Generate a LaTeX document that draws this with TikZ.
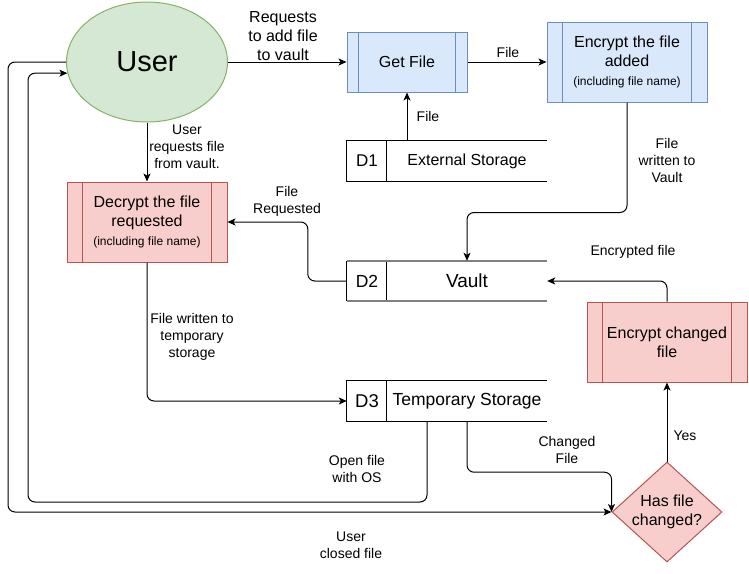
\documentclass[tikz,border=0pt]{standalone}
\usepackage{fontspec}
\setmainfont{Liberation Sans}
\usetikzlibrary{shapes.geometric,arrows.meta,calc}
\definecolor{gfill}{HTML}{D5E8D4}
\definecolor{gstroke}{HTML}{82B366}
\definecolor{bfill}{HTML}{DAE8FC}
\definecolor{bstroke}{HTML}{6C8EBF}
\definecolor{rfill}{HTML}{F8CECC}
\definecolor{rstroke}{HTML}{B85450}
\definecolor{vgray}{HTML}{808080}
\newcommand\fsL{\fontsize{14}{17}\selectfont}
\newcommand\fsT{\fontsize{16}{19.2}\selectfont}
\newcommand\fsM{\fontsize{16}{19}\selectfont}
\newcommand\fsS{\fontsize{12}{14}\selectfont}
\newcommand\procbars[2]{%
  \draw[#2, line width=1pt] ($(#1.north west)!0.1!(#1.north east)$) -- ($(#1.south west)!0.1!(#1.south east)$);
  \draw[#2, line width=1pt] ($(#1.north west)!0.9!(#1.north east)$) -- ($(#1.south west)!0.9!(#1.south east)$);}
\newcommand\store[1]{%
  \draw[line width=1pt] (#1.north east) -- (#1.north west) -- (#1.south west) -- (#1.south east);
  \draw[line width=1pt] ($(#1.north west)+(40,0)$) -- ($(#1.south west)+(40,0)$);}
\begin{document}
\begin{tikzpicture}[x=1pt,y=1pt,
  flow/.style={draw=black, line width=1pt, rounded corners=7pt, -{Stealth[length=8pt,width=7pt,inset=2pt]}},
  lbl/.style={font=\fsL, align=center, inner sep=0pt},
  proc/.style={rectangle, line width=1pt, inner sep=0pt, align=center, font=\fsM},
  bluebox/.style={draw=bstroke, fill=bfill},
  redbox/.style={draw=rstroke, fill=rfill},
  storearea/.style={rectangle, minimum width=200pt, minimum height=40pt, inner sep=0pt},
  txt/.style={inner sep=0pt, align=center}
]
\useasboundingbox (0,0) rectangle (749,-573);

% main shapes
\node[ellipse, draw=gstroke, fill=gfill, line width=1pt, minimum width=161pt, minimum height=120pt, inner sep=0pt, font=\fontsize{29}{34}\selectfont] (user) at (147,-62) {User};

\node[proc, bluebox, minimum width=120pt, minimum height=60pt] (getfile) at (407,-62) {Get File};
\procbars{getfile}{bstroke}

\node[proc, bluebox, minimum width=160pt, minimum height=80pt] (encadd) at (627,-62) {Encrypt the file\\added\\{\fsS (including file name)}};
\procbars{encadd}{bstroke}

\node[proc, redbox, minimum width=160pt, minimum height=80pt] (decrypt) at (147,-222) {Decrypt the file\\requested\\{\fsS (including file name)}};
\procbars{decrypt}{rstroke}

\node[proc, redbox, minimum width=160pt, minimum height=80pt] (encchg) at (667,-342) {Encrypt changed\\file};
\procbars{encchg}{rstroke}

\node[diamond, draw=rstroke, fill=rfill, line width=1pt, minimum width=110pt, minimum height=100pt, inner sep=0pt] (chg) at (667,-512) {};
\node[txt, font=\fsM] (chgtxt) at (chg) {Has file\\changed?};

% data stores
\node[storearea] (d1) at (447,-161) {};
\store{d1}
\node[txt, font=\fontsize{17}{20}\selectfont] (d1id) at (367,-161) {D1};
\node[txt, font=\fsM] (d1txt) at (467,-161) {External Storage};

\node[storearea] (d2) at (447,-281) {};
\draw[line width=1pt] (d2.north west) -- (d2.south west);
\draw[line width=1pt] ($(d2.north west)+(40,0)$) -- ($(d2.south west)+(40,0)$);
\draw[vgray, line width=1.6pt] (d2.north west) -- (d2.north east);
\draw[vgray, line width=1.6pt] (d2.south west) -- (d2.south east);
\node[txt, font=\fontsize{17.5}{20}\selectfont] (d2id) at (367,-281) {D2};
\node[txt, font=\fontsize{19}{22}\selectfont] (d2txt) at (467,-281) {Vault};

\node[storearea] (d3) at (447,-401) {};
\store{d3}
\node[txt, font=\fontsize{18.5}{22}\selectfont] (d3id) at (367,-401) {D3};
\node[txt, font=\fontsize{17.5}{21}\selectfont] (d3txt) at (467,-401) {Temporary Storage};

% helper coordinates
\coordinate (opx) at (427,0);
\coordinate (loopA) at (28,-502);
\coordinate (loopB) at (8,-512);

% connectors
\draw[flow] (user) -- (getfile);
\draw[flow] (getfile) -- (encadd);
\draw[flow] (d1.north -| getfile) -- (getfile.south);
\draw[flow] (encadd.south) -- ++(0,-110) -| (d2txt.center |- d2.north);
\draw[flow] (d2.west) -- ++(-39,0) |- (decrypt.east);
\draw[flow] (user.south) -- (decrypt.north);
\draw[flow] (decrypt.south) |- (d3.west);
\draw[flow] (d3txt.center |- d3.south) -- ++(0,-51) -| (chg.west);
\draw[flow] (d3.south -| opx) -- (opx |- loopA) -- (loopA) -- (loopA |- user.188) -- (user.188);
\draw[flow] (user.west) -- (user.west -| loopB) -- (loopB) -- (chg.west);
\draw[flow] (chg.north) -- (encchg.south);
\draw[flow] (encchg.north) |- (d2.east);

% labels
\node[lbl, font=\fsT] (l1) at (283,-36) {Requests\\to add file\\to vault};
\node[lbl] (l2) at (508,-52) {File};
\node[lbl] (l3) at (428,-116) {File};
\node[lbl] (l4) at (667,-160) {File\\written to\\Vault};
\node[lbl] (l5) at (633,-252) {Encrypted file};
\node[lbl] (l6) at (187,-147) {User\\requests file\\from vault.};
\node[lbl] (l7) at (287,-201) {File\\Requested};
\node[lbl] (l8) at (192,-337) {File written to\\temporary\\storage};
\node[lbl] (l9) at (357,-469) {Open file\\with OS};
\node[lbl] (l10) at (351,-545) {User\\closed file};
\node[lbl] (l11) at (567,-450) {Changed\\File};
\node[lbl] (l12) at (685,-436) {Yes};
\end{tikzpicture}
\end{document}
